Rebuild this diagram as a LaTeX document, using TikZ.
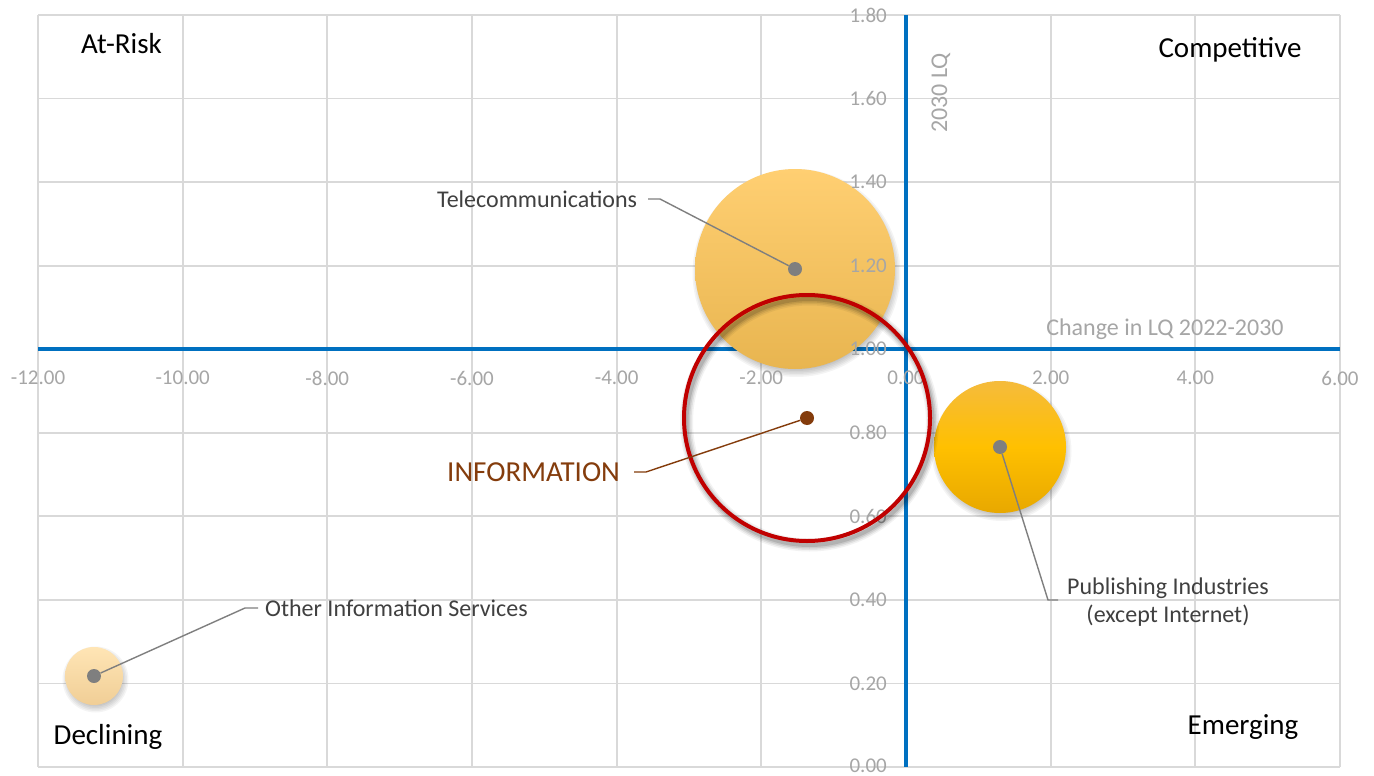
\documentclass[tikz,border=0pt]{standalone}
\usepackage{fontspec}
\setmainfont{Carlito}
\definecolor{gridc}{HTML}{D9D9D9}
\definecolor{axblue}{HTML}{0070C0}
\definecolor{tickc}{HTML}{A6A6A6}
\definecolor{lbl}{HTML}{404040}
\definecolor{dotc}{HTML}{7F7F7F}
\definecolor{ringred}{HTML}{C00000}
\definecolor{infobrown}{HTML}{843C0C}
\definecolor{telTop}{HTML}{FFCF72}
\definecolor{telBot}{HTML}{E8B550}
\definecolor{pubTop}{HTML}{F5BB3C}
\definecolor{pubMid}{HTML}{FFC000}
\definecolor{pubBot}{HTML}{E8A800}
\definecolor{othTop}{HTML}{FFE5B5}
\definecolor{othBot}{HTML}{F0CE96}
\begin{document}
\begin{tikzpicture}[x=1pt,y=-1pt,
  gridline/.style={draw=gridc, line width=1.8pt},
  axisline/.style={draw=axblue, line width=3.5pt},
  ticklab/.style={text=tickc, font=\fontsize{21}{25}\selectfont, inner sep=0pt},
  axtitle/.style={text=tickc, font=\fontsize{24}{29}\selectfont, inner sep=0pt},
  quad/.style={text=black, font=\fontsize{29}{34}\selectfont, inner sep=0pt, anchor=base},
  datalab/.style={text=lbl, font=\fontsize{24}{29}\selectfont, inner sep=0pt},
  bubble/.style={circle, inner sep=0pt, draw=none},
  shadowfill/.style={fill=black, opacity=0.045},
  dotn/.style={circle, fill=dotc, inner sep=0pt, minimum size=14pt},
  leader/.style={draw=dotc, line width=1.4pt},
]
\useasboundingbox (0,0) rectangle (1374,776);
\fill[white] (0,0) rectangle (1374,776);
% grid
\foreach \gx [count=\i] in {38,182.7,327.3,472,616.7,761.3,906,1050.7,1195.3,1340}
  \draw[gridline] (\gx,15) -- (\gx,767);
\foreach \gy [count=\i] in {15,98.5,182.1,265.6,349.2,432.8,516.3,599.9,683.4,767}
  \draw[gridline] (38,\gy) -- (1340,\gy);
% axes
\draw[axisline] (906,15) -- (906,767);
\draw[axisline] (38,349.2) -- (1340,349.2);
% quadrant labels
\node[quad] (atrisk) at (121.5,54) {At-Risk};
\node[quad] (compet) at (1230,58) {Competitive};
\node[quad] (declin) at (108,744) {Declining};
\node[quad] (emerg) at (1243,734) {Emerging};
% axis titles
\node[axtitle, rotate=90] (ytitle) at (941,93) {2030 LQ};
\node[axtitle, anchor=base] (xtitle) at (1165,335) {Change in LQ 2022-2030};
% soft shadows of bubbles
\foreach \d in {0,1.5,3,4.5,6,7.5} {
  \fill[shadowfill] (796.5,273) circle ({104-\d});
  \fill[shadowfill] (1001.5,451) circle ({70-\d});
  \fill[shadowfill] (95.5,679.5) circle ({33-\d});
}
% bubbles
\node[bubble, minimum size=200pt, top color=telTop, bottom color=telBot] (telb) at (795,269) {};
\node[bubble, minimum size=132pt, top color=pubTop, bottom color=pubBot, middle color=pubMid] (pubb) at (1000,447) {};
\node[bubble, minimum size=58pt, top color=othTop, bottom color=othBot] (othb) at (94,676) {};
% tick labels (over bubbles)
\foreach \v/\gy [count=\i] in {1.80/15,1.60/98.5,1.40/182.1,1.20/265.6,1.00/349.2,0.80/432.8,0.60/516.3,0.40/599.9,0.20/683.4,0.00/766}
  \node[ticklab, anchor=east] (yt\i) at (887,\gy) {\v};
\foreach \v/\gx [count=\i] in {-12.00/38,-10.00/182.7,-8.00/327.3,-6.00/472,-4.00/616.7,-2.00/761.3,0.00/906,2.00/1050.7,4.00/1195.3,6.00/1340}
  \node[ticklab] (xt\i) at (\gx,378) {\v};
% INFORMATION ring with soft shadow
\foreach \o/\s in {0.05/13,0.07/10,0.09/7,0.12/4}
  \draw[black, opacity=\o, line width=\s pt] (809.5,422) circle (123);
\node[circle, draw=ringred, line width=4pt, minimum size=246pt, inner sep=0pt] (infor) at (807,418) {};
% data labels
\node[datalab, anchor=base west] (tellab) at (437,207) {Telecommunications};
\node[datalab, anchor=base west] (othlab) at (265,616) {Other Information Services};
\node[datalab, align=center, anchor=center] (publab) at (1168,602) {Publishing Industries\\[-1pt](except Internet)};
\node[text=infobrown, font=\fontsize{29}{34}\selectfont, inner sep=0pt, anchor=base west] (infolab) at (447,481) {INFORMATION};
% leader bend points
\coordinate (telk1) at (648,199);
\coordinate (telk2) at (660,199);
\coordinate (othk1) at (258,608);
\coordinate (othk2) at (245,608);
\coordinate (pubk1) at (1058,600);
\coordinate (pubk2) at (1048,600);
\coordinate (infk1) at (634,472);
\coordinate (infk2) at (646,472);
% dots
\node[dotn] (teld) at (795,269) {};
\node[dotn] (pubd) at (1000,447) {};
\node[dotn] (othd) at (94,676) {};
\node[dotn, fill=infobrown] (infod) at (807,418) {};
% leaders
\draw[leader] (telk1) -- (telk2) -- (teld);
\draw[leader] (othk1) -- (othk2) -- (othd);
\draw[leader] (pubk1) -- (pubk2) -- (pubd);
\draw[leader, draw=infobrown] (infk1) -- (infk2) -- (infod);
\end{tikzpicture}
\end{document}
